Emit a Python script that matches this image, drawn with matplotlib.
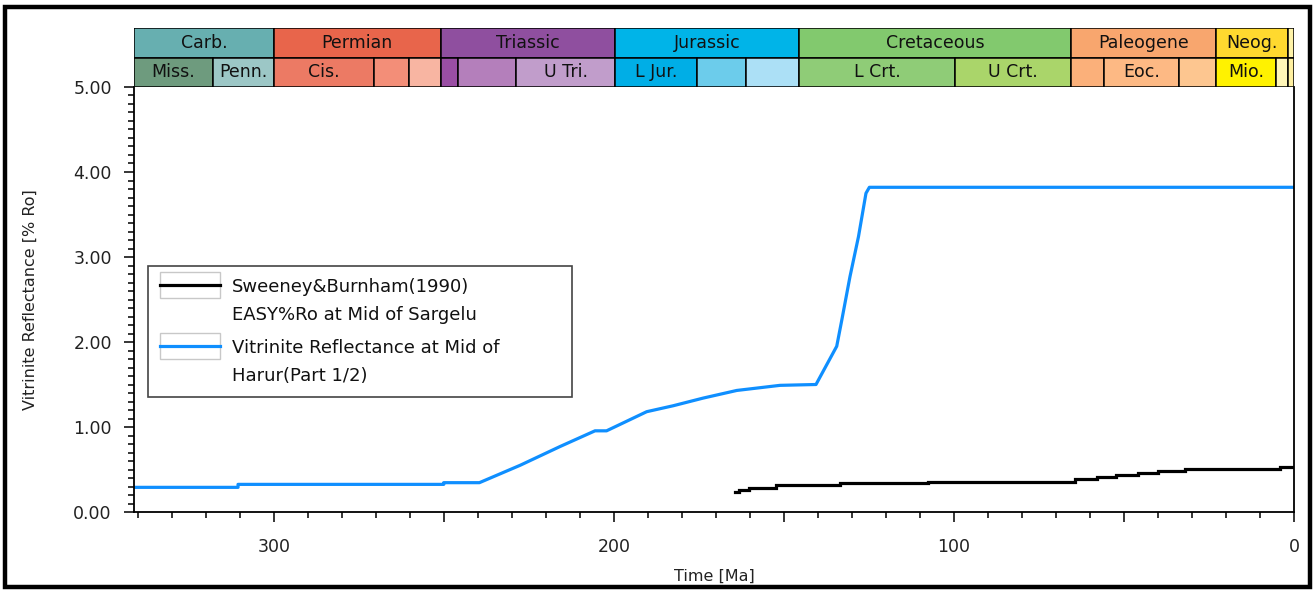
import matplotlib
matplotlib.use("Agg")
import matplotlib.pyplot as plt
from matplotlib.patches import Rectangle
from matplotlib.legend_handler import HandlerLine2D
from matplotlib.transforms import Affine2D
from matplotlib.ticker import MultipleLocator, FuncFormatter

# ---------------- data ----------------
blue_age = [341.2, 310.6, 310.6, 250.1, 250.1, 239.6, 227.6, 215.9, 205.6, 202.2,
            190.4, 182.6, 173.8, 163.9, 151.2, 140.6, 134.5, 133.0, 130.6, 128.1,
            125.9, 124.9, 0.0]
blue_ro = [0.29, 0.29, 0.325, 0.325, 0.345, 0.345, 0.55, 0.77, 0.955, 0.955,
           1.18, 1.25, 1.34, 1.43, 1.49, 1.50, 1.95, 2.26, 2.77, 3.24,
           3.75, 3.82, 3.82]

black_age = [164.4, 163.3, 160.4, 152.4, 133.5, 107.8, 64.3, 58.0, 52.3, 46.0,
             39.9, 32.2, 4.2, 0.0]
black_ro = [0.239, 0.259, 0.286, 0.318, 0.337, 0.357, 0.384, 0.408, 0.435, 0.463,
            0.482, 0.502, 0.533, 0.533]

series_labels = ["Sweeney&Burnham(1990)\nEASY%Ro at Mid of Sargelu",
                 "Vitrinite Reflectance at Mid of\nHarur(Part 1/2)"]

period_names = ["Carb.", "Permian", "Triassic", "Jurassic", "Cretaceous", "Paleogene", "Neog.", ""]
period_start = [341.2, 300.0, 251.0, 199.6, 145.5, 65.5, 23.03, 1.806]
period_end = [300.0, 251.0, 199.6, 145.5, 65.5, 23.03, 1.806, 0.0]
period_colors = ["#67AFB0", "#E8654B", "#8F4F9F", "#00B4E8", "#82C96E", "#F8A66E", "#FFD92F", "#FFF3A8"]

epoch_names = ["Miss.", "Penn.", "Cis.", "", "", "", "", "U Tri.", "L Jur.", "", "",
               "L Crt.", "U Crt.", "", "Eoc.", "", "Mio.", "", ""]
epoch_start = [341.2, 318.1, 300.0, 270.6, 260.4, 251.0, 245.9, 228.7, 199.6, 175.6, 161.2,
               145.5, 99.6, 65.5, 55.8, 33.9, 23.03, 5.33, 1.806]
epoch_end = [318.1, 300.0, 270.6, 260.4, 251.0, 245.9, 228.7, 199.6, 175.6, 161.2, 145.5,
             99.6, 65.5, 55.8, 33.9, 23.03, 5.33, 1.806, 0.0]
epoch_colors = ["#6E9B7E", "#9CC7C6", "#EC7A64", "#F38E78", "#F8B5A2", "#9A4EA4", "#B47FBB",
                "#C19DCB", "#00AEE6", "#6CCCEB", "#ACE0F6", "#8FCC77", "#AAD56A", "#FBB07A",
                "#FDB984", "#FDC690", "#FFF200", "#FFF6B8", "#FFF0A0"]

x_max_age = 341.2
y_max = 5.0

# ---------------- figure ----------------
plt.rcParams["font.family"] = ["DejaVu Sans"]
W, H = 1314, 590
fig = plt.figure(figsize=(W / 100, H / 100), dpi=100)

ax = fig.add_axes([134 / W, 1 - 512 / H, 1160 / W, 425 / H])
ts = fig.add_axes([134 / W, 1 - 87 / H, 1160 / W, 59 / H])

black_line, = ax.plot(black_age, black_ro, color="black", lw=2.3, drawstyle="steps-post",
                      solid_joinstyle="miter")
blue_line, = ax.plot(blue_age, blue_ro, color="#0F8FFF", lw=2.3)

ax.set_xlim(x_max_age, 0)
ax.set_ylim(0, y_max)

ax.xaxis.set_major_locator(MultipleLocator(50))
ax.xaxis.set_minor_locator(MultipleLocator(10))
ax.xaxis.set_major_formatter(FuncFormatter(lambda v, p: f"{v:.0f}" if abs(v % 100) < 1e-6 else ""))
ax.yaxis.set_major_locator(MultipleLocator(1))
ax.yaxis.set_minor_locator(MultipleLocator(0.1))
ax.yaxis.set_major_formatter(FuncFormatter(lambda v, p: f"{v:.2f}"))

ax.tick_params(axis="both", which="major", direction="out", length=7, width=1.1,
               labelsize=12.5, colors="black", labelcolor="#222222")
ax.tick_params(axis="both", which="minor", direction="out", length=4, width=1.1)
ax.tick_params(axis="x", which="major", pad=12)
ax.tick_params(axis="y", which="major", pad=9)

for s in ["left", "bottom", "right"]:
    ax.spines[s].set_linewidth(1.3)
ax.spines["top"].set_visible(False)

ax.set_xlabel("Time [Ma]", fontsize=11.5, color="#222222")
ax.set_ylabel("Vitrinite Reflectance [% Ro]", fontsize=11.5, color="#222222")
ax.xaxis.set_label_coords(0.5, -0.133)
ax.yaxis.set_label_coords(-0.083, 0.5)

# ---------------- legend ----------------
class BoxedLine(HandlerLine2D):
    def __init__(self, yshift=0.0, box_h=18.7, **kw):
        super().__init__(**kw)
        self.yshift = yshift
        self.box_h = box_h

    def create_artists(self, legend, orig_handle, xdescent, ydescent, width, height, fontsize, trans):
        arts = super().create_artists(legend, orig_handle, xdescent, ydescent, width, height,
                                      fontsize, trans)
        cy = (height - ydescent) / 2
        box = Rectangle((-xdescent, cy - self.box_h / 2), width, self.box_h, facecolor="white",
                        edgecolor="#C8C8C8", lw=1.0)
        t2 = Affine2D().translate(0, self.yshift) + trans
        box.set_transform(t2)
        for a in arts:
            a.set_transform(t2)
        return [box] + list(arts)


leg = ax.legend([black_line, blue_line], series_labels, loc="upper left",
                bbox_to_anchor=(14 / 1160, 246 / 425, 424 / 1160, 0.0), mode="expand",
                borderaxespad=0, fontsize=13, frameon=True, fancybox=False,
                edgecolor="#444444", framealpha=1, handlelength=3.3, handleheight=1.44,
                handletextpad=0.7, labelspacing=0.83, borderpad=0.67,
                handler_map={black_line: BoxedLine(yshift=10.3), blue_line: BoxedLine(yshift=10.3)})
leg.get_frame().set_linewidth(1.2)
for t in leg.get_texts():
    t.set_linespacing(1.7)
    t.set_color("#111111")

# ---------------- geologic time scale ----------------
ts.set_xlim(x_max_age, 0)
ts.set_ylim(0, 2)
ts.axis("off")
for name, a0, a1, c in zip(period_names, period_start, period_end, period_colors):
    ts.add_patch(Rectangle((a0, 1), a1 - a0, 1, facecolor=c, edgecolor="black", lw=1.1))
    if name:
        ts.text((a0 + a1) / 2, 1.5, name, ha="center", va="center", fontsize=12.5, color="#111111")
for name, a0, a1, c in zip(epoch_names, epoch_start, epoch_end, epoch_colors):
    ts.add_patch(Rectangle((a0, 0), a1 - a0, 1, facecolor=c, edgecolor="black", lw=1.1))
    if name:
        ts.text((a0 + a1) / 2, 0.5, name, ha="center", va="center", fontsize=12.5, color="#111111")

# outer frame
fig.patches.append(Rectangle((5 / W, 1 - 587 / H), 1305 / W, 580 / H, transform=fig.transFigure,
                             fill=False, edgecolor="black", lw=3.2))

fig.savefig("out.png", dpi=100)
